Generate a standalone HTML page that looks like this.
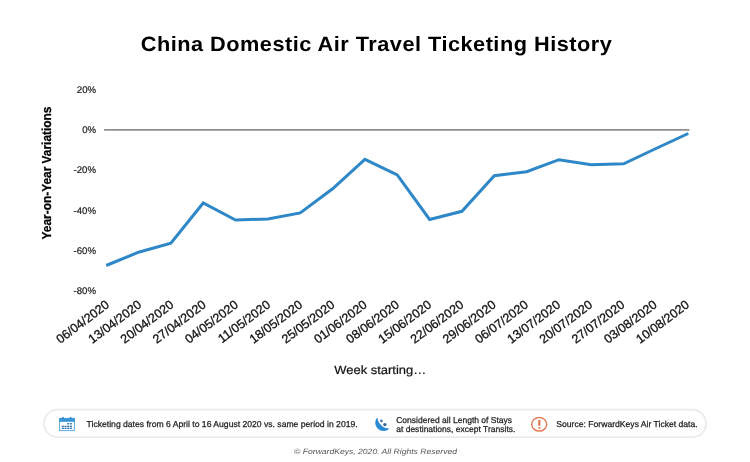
<!DOCTYPE html>
<html><head><meta charset="utf-8"><style>
html,body{margin:0;padding:0;background:#fff;}
text{text-rendering:geometricPrecision;}
body{width:750px;height:462px;overflow:hidden;position:relative;font-family:"Liberation Sans",Arial,sans-serif;}
svg{position:absolute;left:0;top:0;will-change:transform;}
</style></head><body>
<svg width="750" height="462" viewBox="0 0 750 462" font-family="Liberation Sans, Arial, sans-serif">
<text transform="translate(376.5,51.2) scale(1.05,1)" text-anchor="middle" font-size="20.7" font-weight="bold" fill="#000" letter-spacing="0.47">China Domestic Air Travel Ticketing History</text>
<g font-size="9.6" fill="#222" stroke="#222" stroke-width="0.2">
<text transform="translate(96,92.96) scale(1.0,1)" text-anchor="end">20%</text>
<text transform="translate(96,133.16) scale(1.0,1)" text-anchor="end">0%</text>
<text transform="translate(96,173.36) scale(1.0,1)" text-anchor="end">-20%</text>
<text transform="translate(96,213.56) scale(1.0,1)" text-anchor="end">-40%</text>
<text transform="translate(96,253.76) scale(1.0,1)" text-anchor="end">-60%</text>
<text transform="translate(96,293.96) scale(1.0,1)" text-anchor="end">-80%</text>
</g>
<text transform="translate(51.2,173) rotate(-90) scale(0.915,1)" text-anchor="middle" font-size="13" font-weight="bold" fill="#000" stroke="#000" stroke-width="0.25">Year-on-Year Variations</text>
<line x1="104.1" y1="129.9" x2="689.5" y2="129.9" stroke="#8f8f8f" stroke-width="1.9"/>
<polyline points="106.20,265.50 138.54,252.20 170.88,243.20 203.22,203.00 235.56,220.00 267.90,219.00 300.24,212.90 332.58,188.80 364.92,159.30 397.26,174.90 429.60,219.50 461.94,211.30 494.28,175.70 526.62,171.70 558.96,159.70 591.30,164.80 623.64,163.80 655.98,148.50 688.32,133.50" fill="none" stroke="#2e88c8" stroke-width="3.0" stroke-linejoin="miter"/>
<g font-size="12.5" fill="#111" stroke="#111" stroke-width="0.3">
<text transform="translate(110.10,306.4) scale(1.0,1) rotate(-37)" text-anchor="end">06/04/2020</text>
<text transform="translate(142.32,306.4) scale(1.0,1) rotate(-37)" text-anchor="end">13/04/2020</text>
<text transform="translate(174.54,306.4) scale(1.0,1) rotate(-37)" text-anchor="end">20/04/2020</text>
<text transform="translate(206.76,306.4) scale(1.0,1) rotate(-37)" text-anchor="end">27/04/2020</text>
<text transform="translate(238.98,306.4) scale(1.0,1) rotate(-37)" text-anchor="end">04/05/2020</text>
<text transform="translate(271.20,306.4) scale(1.0,1) rotate(-37)" text-anchor="end">11/05/2020</text>
<text transform="translate(303.42,306.4) scale(1.0,1) rotate(-37)" text-anchor="end">18/05/2020</text>
<text transform="translate(335.64,306.4) scale(1.0,1) rotate(-37)" text-anchor="end">25/05/2020</text>
<text transform="translate(367.86,306.4) scale(1.0,1) rotate(-37)" text-anchor="end">01/06/2020</text>
<text transform="translate(400.08,306.4) scale(1.0,1) rotate(-37)" text-anchor="end">08/06/2020</text>
<text transform="translate(432.30,306.4) scale(1.0,1) rotate(-37)" text-anchor="end">15/06/2020</text>
<text transform="translate(464.52,306.4) scale(1.0,1) rotate(-37)" text-anchor="end">22/06/2020</text>
<text transform="translate(496.74,306.4) scale(1.0,1) rotate(-37)" text-anchor="end">29/06/2020</text>
<text transform="translate(528.96,306.4) scale(1.0,1) rotate(-37)" text-anchor="end">06/07/2020</text>
<text transform="translate(561.18,306.4) scale(1.0,1) rotate(-37)" text-anchor="end">13/07/2020</text>
<text transform="translate(593.40,306.4) scale(1.0,1) rotate(-37)" text-anchor="end">20/07/2020</text>
<text transform="translate(625.62,306.4) scale(1.0,1) rotate(-37)" text-anchor="end">27/07/2020</text>
<text transform="translate(657.84,306.4) scale(1.0,1) rotate(-37)" text-anchor="end">03/08/2020</text>
<text transform="translate(690.06,306.4) scale(1.0,1) rotate(-37)" text-anchor="end">10/08/2020</text>
</g>
<text transform="translate(380.2,374.1) scale(1.08,1)" text-anchor="middle" font-size="12" fill="#111" stroke="#111" stroke-width="0.2">Week starting…</text>
<rect x="44" y="409.6" width="662" height="27.6" rx="13.8" ry="13.8" fill="#fff" stroke="#ebebeb" stroke-width="1.8"/>
<g transform="translate(59,417)">
<rect x="0.6" y="1.4" width="14.8" height="12.2" fill="none" stroke="#5aaee6" stroke-width="1"/>
<rect x="0.1" y="1.2" width="15.8" height="3.6" fill="#3a95d6"/>
<rect x="3.2" y="0" width="1.6" height="2" fill="#2f87c8"/>
<rect x="10.8" y="0" width="1.6" height="2" fill="#2f87c8"/>
<g fill="#2a6fa8">
<rect x="8.2" y="6.1" width="2" height="1.3"/><rect x="10.9" y="6.1" width="2" height="1.3"/>
<rect x="2.8" y="8.7" width="2" height="1.3"/><rect x="5.5" y="8.7" width="2" height="1.3"/><rect x="8.2" y="8.7" width="2" height="1.3"/><rect x="10.9" y="8.7" width="2" height="1.3"/>
<rect x="2.8" y="10.7" width="2" height="1.3"/><rect x="5.5" y="10.7" width="2" height="1.3"/><rect x="8.2" y="10.7" width="2" height="1.3"/><rect x="10.9" y="10.7" width="2" height="1.3"/>
</g>
</g>
<path d="M377.4 417.3 A8.1 8.1 0 1 0 389.4 428.4 A12 12 0 0 1 377.4 417.3 Z" fill="#2b8ad4"/>
<circle cx="381.4" cy="420.9" r="1.3" fill="#44709a"/>
<circle cx="384.9" cy="424.6" r="1.7" fill="#3b6a96"/>
<ellipse cx="539.2" cy="424.3" rx="7.5" ry="6.8" fill="none" stroke="#e3805a" stroke-width="1.5"/>
<rect x="538.3" y="420" width="2" height="5.8" rx="0.6" fill="#dc6f3e"/>
<circle cx="539.3" cy="428" r="1" fill="#dc6f3e"/>
<g font-size="8.6" fill="#222" stroke="#222" stroke-width="0.25">
<text transform="translate(86.6,426.8) scale(1.0,1)" >Ticketing dates from 6 April to 16 August 2020 vs. same period in 2019.</text>
<text transform="translate(396.2,423) scale(0.99,1)" >Considered all Length of Stays</text>
<text transform="translate(396.2,431.8) scale(0.99,1)" >at destinations, except Transits.</text>
<text transform="translate(556.3,427.2) scale(1.0,1)" >Source: ForwardKeys Air Ticket data.</text>
</g>
<text transform="translate(375.5,454.4) scale(1.13,1)" text-anchor="middle" font-size="7.6" font-style="italic" fill="#555">© ForwardKeys, 2020. All Rights Reserved</text>
</svg>
</body></html>
